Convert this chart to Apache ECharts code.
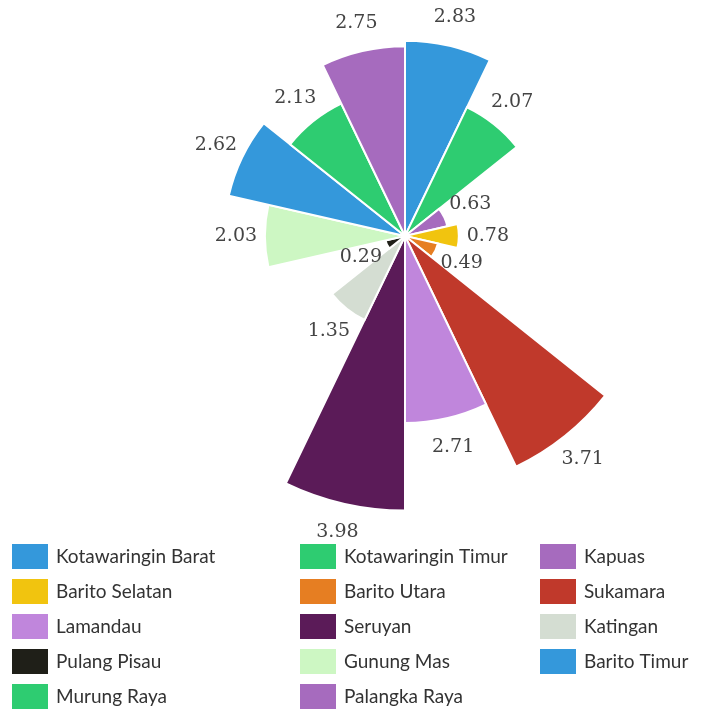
<!DOCTYPE html>
<html>
<head>
<meta charset="utf-8">
<script src="https://cdn.jsdelivr.net/npm/echarts@6/dist/echarts.min.js"></script>
<style>
  html, body { margin: 0; padding: 0; background: #fff; }
  #chart { width: 723px; height: 711px; }
</style>
</head>
<body>
<div id="chart"></div>
<script>
// kabupaten / kota, urutan searah jarum jam dari atas
var regions = ['Kotawaringin Barat', 'Kotawaringin Timur', 'Kapuas', 'Barito Selatan',
  'Barito Utara', 'Sukamara', 'Lamandau', 'Seruyan', 'Katingan', 'Pulang Pisau',
  'Gunung Mas', 'Barito Timur', 'Murung Raya', 'Palangka Raya'];
var values = [2.83, 2.07, 0.63, 0.78, 0.49, 3.71, 2.71, 3.98, 1.35, 0.29, 2.03, 2.62, 2.13, 2.75];
var colors = ['#3498db', '#2ecc71', '#a66bbe', '#f1c40f', '#e67e22', '#c0392b', '#c086dc',
  '#5b1b58', '#d4ddd2', '#1f1f18', '#cdf7c3', '#3498db', '#2ecc71', '#a66bbe'];

// legend columns (same order as the picture)
var legendCols = [
  ['Kotawaringin Barat', 'Barito Selatan', 'Lamandau', 'Pulang Pisau', 'Murung Raya'],
  ['Kotawaringin Timur', 'Barito Utara', 'Seruyan', 'Gunung Mas', 'Palangka Raya'],
  ['Kapuas', 'Sukamara', 'Katingan', 'Barito Timur']
];
var legendLeft = [12, 300, 540];

var chart = echarts.init(document.getElementById('chart'));

var series = regions.map(function (name, i) {
  var data = regions.map(function (_, j) { return j === i ? values[i] : '-'; });
  return {
    type: 'bar',
    name: name,
    coordinateSystem: 'polar',
    stack: 'all',
    barCategoryGap: 0,
    data: data,
    itemStyle: { color: colors[i], borderColor: '#fff', borderWidth: 2 },
    label: {
      show: true,
      position: 'end',
      distance: 29,
      rotate: 0,
      align: 'center',
      verticalAlign: 'middle',
      color: '#444',
      fontFamily: 'DejaVu Serif',
      fontSize: 19
    }
  };
});

var legends = legendCols.map(function (col, k) {
  return {
    orient: 'vertical',
    left: legendLeft[k],
    top: 544,
    data: col,
    icon: 'rect',
    itemWidth: 36,
    itemHeight: 25,
    itemGap: 10,
    padding: 0,
    itemStyle: { borderWidth: 0 },
    textStyle: {
      color: '#333',
      fontFamily: 'Lato, sans-serif',
      fontSize: 19,
      padding: [0, 0, 0, 3]
    }
  };
});

chart.setOption({
  animation: false,
  backgroundColor: '#fff',
  polar: { center: [405, 236], radius: 276 },
  angleAxis: {
    type: 'category',
    data: regions,
    startAngle: 90,
    clockwise: true,
    show: false
  },
  radiusAxis: { type: 'value', min: 0, max: 4, show: false },
  legend: legends,
  series: series
});
</script>
</body>
</html>
